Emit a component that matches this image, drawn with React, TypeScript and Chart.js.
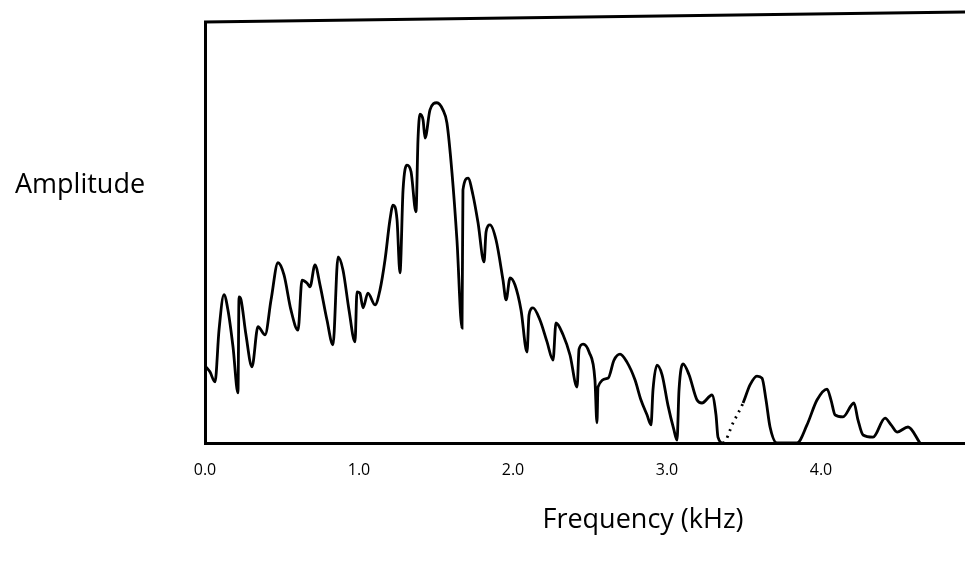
import { useEffect, useRef } from "react";
import { Chart, registerables } from "chart.js";

Chart.register(...registerables);

// Spectrum trace: frequency (kHz) and relative amplitude
const FREQ_KHZ = [
  0.006, 0.032, 0.065, 0.091, 0.123, 0.149, 0.182, 0.214, 0.221, 0.234,
  0.266, 0.305, 0.344, 0.39, 0.429, 0.474, 0.513, 0.558, 0.604, 0.63,
  0.662, 0.682, 0.714, 0.747, 0.792, 0.831, 0.864, 0.896, 0.935, 0.974,
  0.987, 1.006, 1.026, 1.058, 1.104, 1.136, 1.169, 1.201, 1.221, 1.247,
  1.266, 1.286, 1.312, 1.338, 1.37, 1.383, 1.396, 1.416, 1.429, 1.461,
  1.506, 1.545, 1.571, 1.604, 1.636, 1.669, 1.675, 1.708, 1.74, 1.773,
  1.812, 1.825, 1.851, 1.89, 1.935, 1.955, 1.981, 2.013, 2.052, 2.091,
  2.104, 2.13, 2.175, 2.221, 2.26, 2.279, 2.325, 2.37, 2.416, 2.429,
  2.455, 2.494, 2.532, 2.545, 2.552, 2.617, 2.656, 2.695, 2.74, 2.792,
  2.831, 2.87, 2.896, 2.909, 2.935, 2.968, 3.006, 3.045, 3.065, 3.078,
  3.104, 3.143, 3.195, 3.227, 3.292, 3.318, 3.331, 3.364, 3.429, 3.494,
  3.539, 3.584, 3.617, 3.643, 3.669, 3.714, 3.844, 3.909, 3.974, 4.039,
  4.065, 4.091, 4.143, 4.214, 4.24, 4.273, 4.338, 4.416, 4.455, 4.494,
  4.565, 4.643,
];

const AMPLITUDE = [
  18.1, 16.9, 14.5, 26.8, 35.2, 31.6, 22.8, 11.9, 34.7, 34.0,
  25.7, 18.1, 27.6, 25.7, 34.0, 42.8, 39.9, 31.6, 26.8, 38.7,
  38.0, 37.1, 42.3, 37.5, 29.2, 23.3, 44.2, 41.1, 31.6, 24.0,
  35.9, 35.6, 32.1, 35.6, 32.8, 36.3, 43.5, 53.0, 56.5, 53.0,
  40.4, 60.1, 66.0, 64.4, 54.9, 72.0, 78.1, 76.7, 72.4, 79.1,
  80.8, 79.1, 76.0, 64.1, 48.2, 27.3, 60.1, 62.9, 58.9, 52.3,
  43.0, 50.1, 51.8, 48.2, 38.7, 34.0, 39.2, 37.5, 31.6, 21.6,
  30.4, 32.1, 29.2, 24.0, 19.7, 28.5, 25.7, 20.9, 13.3, 22.3,
  23.5, 21.6, 15.0, 4.8, 13.3, 15.4, 19.7, 21.1, 19.2, 15.0,
  10.2, 6.7, 4.3, 12.6, 18.5, 16.2, 9.0, 3.1, 0.7, 12.6,
  18.8, 16.2, 10.2, 9.5, 11.4, 6.7, 1.4, 0, 4.8, 9.5,
  13.8, 15.9, 15.4, 10.2, 3.8, 0, 0, 4.3, 10.2, 12.8,
  10.2, 6.7, 6.2, 9.5, 5.5, 1.9, 1.4, 5.9, 4.3, 2.6,
  3.8, 0,
];

const TICK_KHZ = [0, 1, 2, 3, 4];
const X_TITLE = "Frequency (kHz)";
const Y_TITLE = "Amplitude";
// stretch of the trace drawn dotted (faint rising flank)
const DOTTED_FROM = 3.36;
const DOTTED_TO = 3.5;

const TEXT_FONT = "'Open Sans', 'DejaVu Sans', sans-serif";

const framePlugin = {
  id: "frameAndTitles",
  afterDraw(chart: any) {
    const { ctx, chartArea: a } = chart;
    ctx.save();
    // top edge of the frame, drawn slightly tilted
    ctx.strokeStyle = "#000";
    ctx.lineWidth = 3;
    ctx.beginPath();
    ctx.moveTo(a.left - 1, a.top - 2);
    ctx.lineTo(a.right, a.top - 12);
    ctx.stroke();

    ctx.fillStyle = "#000";
    ctx.textBaseline = "alphabetic";
    ctx.font = `27px ${TEXT_FONT}`;
    ctx.textAlign = "left";
    ctx.fillText(Y_TITLE, 15, 193);

    ctx.font = `27px ${TEXT_FONT}`;
    ctx.textAlign = "center";
    ctx.fillText(X_TITLE, 643, 528);
    ctx.restore();
  },
};

export default function App() {
  const canvasRef = useRef<HTMLCanvasElement | null>(null);

  useEffect(() => {
    const canvas = canvasRef.current;
    if (!canvas) return;
    const points = FREQ_KHZ.map((f, i) => ({ x: f, y: AMPLITUDE[i] }));

    const chart = new Chart(canvas, {
      type: "line",
      data: {
        datasets: [
          {
            data: points,
            borderColor: "#000",
            borderWidth: 2.8,
            pointRadius: 0,
            fill: false,
            cubicInterpolationMode: "monotone",
            segment: {
              borderDash: (c: any) =>
                c.p0.parsed.x >= DOTTED_FROM && c.p1.parsed.x <= DOTTED_TO + 0.001
                  ? [2, 5]
                  : undefined,
            },
          },
        ],
      },
      options: {
        responsive: false,
        animation: false,
        layout: { padding: { top: 24, right: 0, left: 0, bottom: 0 } },
        plugins: {
          legend: { display: false },
          tooltip: { enabled: false },
        },
        scales: {
          x: {
            type: "linear",
            min: 0,
            max: 4.935,
            grid: { display: false, drawTicks: false },
            border: { display: true, color: "#000", width: 3 },
            afterBuildTicks: (scale: any) => {
              scale.ticks = TICK_KHZ.map((v) => ({ value: v }));
            },
            afterFit: (scale: any) => {
              scale.height = 135;
            },
            ticks: {
              color: "#000",
              padding: 18,
              font: { family: TEXT_FONT, size: 16 },
              callback: (v: any) => Number(v).toFixed(1),
              maxRotation: 0,
            },
          },
          y: {
            type: "linear",
            min: 0,
            max: 99.5,
            grid: { display: false, drawTicks: false },
            border: { display: true, color: "#000", width: 3 },
            ticks: { display: false },
            afterFit: (scale: any) => {
              scale.width = 205;
            },
          },
        },
      },
      plugins: [framePlugin],
    });

    return () => chart.destroy();
  }, []);

  return (
    <div
      style={{
        position: "fixed",
        left: 0,
        top: 0,
        width: 965,
        height: 578,
        background: "#fff",
      }}
    >
      <canvas ref={canvasRef} width={965} height={578} />
    </div>
  );
}
